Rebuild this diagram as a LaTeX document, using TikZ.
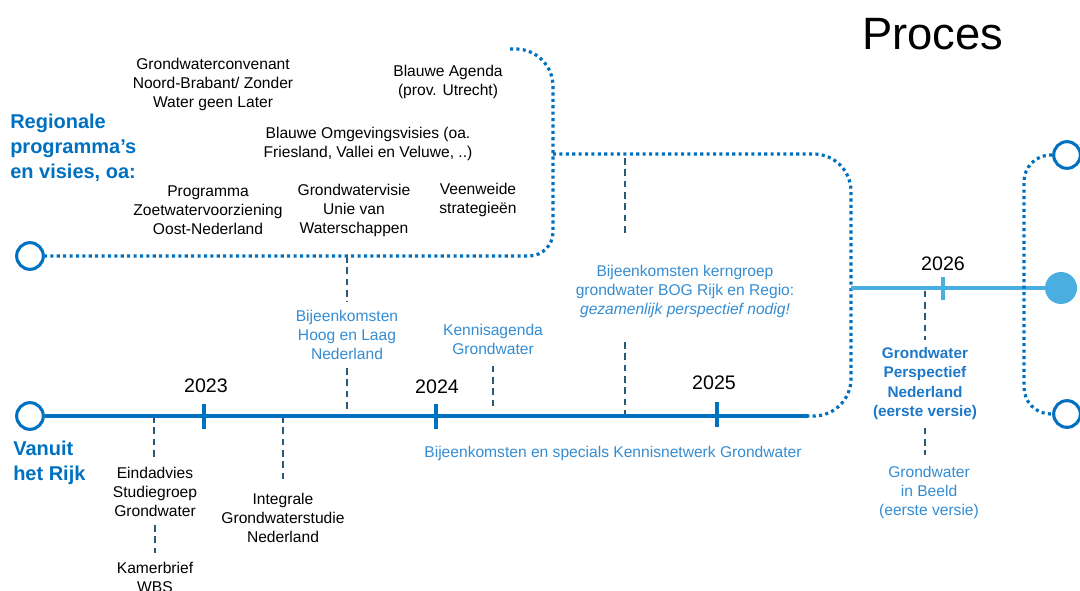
\documentclass[tikz,border=0pt]{standalone}
\usepackage{fontspec}
\setmainfont{Liberation Sans}
\definecolor{dblue}{RGB}{0,112,192}
\definecolor{tblue}{RGB}{52,140,210}
\definecolor{gblue}{RGB}{30,120,200}
\definecolor{lblue}{RGB}{75,174,224}
\definecolor{connc}{RGB}{40,90,120}
\begin{document}
\begin{tikzpicture}[x=0.75pt,y=-0.75pt,
  txt/.style={font=\fontsize{11.7}{14.25}\selectfont, align=center, inner sep=0pt, anchor=north, text=black},
  btxt/.style={txt, text=tblue},
  gpntxt/.style={txt, font=\bfseries\fontsize{11.5}{14.5}\selectfont, text=gblue},
  head/.style={font=\bfseries\fontsize{15}{18.5}\selectfont, text=dblue, align=left, inner sep=0pt, anchor=north west},
  yr/.style={font=\fontsize{14.7}{17}\selectfont, inner sep=0pt, anchor=base},
  ring/.style={circle, draw=dblue, line width=2.3pt, minimum size=20pt, inner sep=0pt, fill=white},
  dotnode/.style={circle, fill=lblue, minimum size=24pt, inner sep=0pt},
  mainln/.style={dblue, line width=3pt},
  dots/.style={dblue, line width=2.4pt, dash pattern=on 2.3pt off 2.5pt},
  lightln/.style={lblue, line width=2.4pt},
  conn/.style={connc, line width=0.9pt, dash pattern=on 5pt off 3.5pt}
]
\useasboundingbox (0,0) rectangle (1080,591);
\clip (0,0) rectangle (1080,591);

% title
\node[anchor=base west, font=\fontsize{34}{40}\selectfont, inner sep=0pt] (title) at (862,50) {Proces};

% headers
\node[head] (regionale) at (10,114) {Regionale\\programma’s\\en visies, oa:};
\node[head] (vanuit) at (13,441) {Vanuit\\het Rijk};

% regional texts
\node[txt] (gwconv) at (213,58) {Grondwaterconvenant\\Noord-Brabant/ Zonder\\Water geen Later};
\node[txt] (blauweag) at (448,65) {Blauwe Agenda\\(prov. Utrecht)};
\node[txt] (omgev) at (368,127) {Blauwe Omgevingsvisies (oa.\\Friesland, Vallei en Veluwe, ..)};
\node[txt] (prog) at (208,186) {Programma\\Zoetwatervoorziening\\Oost-Nederland};
\node[txt] (gwvisie) at (354,184) {Grondwatervisie\\Unie van\\Waterschappen};
\node[txt] (veen) at (478,183) {Veenweide\\strategieën};

% blue texts
\node[btxt] (hoog) at (347,310) {Bijeenkomsten\\Hoog en Laag\\Nederland};
\node[btxt] (kennis) at (493,324) {Kennisagenda\\Grondwater};
\node[btxt] (kern) at (685,265) {Bijeenkomsten kerngroep\\grondwater BOG Rijk en Regio:\\\textit{gezamenlijk perspectief nodig!}};
\node[btxt, anchor=base] (specials) at (613,457) {Bijeenkomsten en specials Kennisnetwerk Grondwater};
\node[gpntxt] (gpn) at (925,347) {Grondwater\\Perspectief\\Nederland\\(eerste versie)};
\node[btxt] (beeld) at (929,466) {Grondwater\\in Beeld\\(eerste versie)};

% Rijk texts
\node[txt] (eind) at (155,467) {Eindadvies\\Studiegroep\\Grondwater};
\node[txt] (kamer) at (155,562) {Kamerbrief\\WBS};
\node[txt] (integ) at (283,493) {Integrale\\Grondwaterstudie\\Nederland};

% years
\node[yr] (y23) at (206,392) {2023};
\node[yr] (y24) at (437,393) {2024};
\node[yr] (y25) at (714,389) {2025};
\node[yr] (y26) at (943,271) {2026};

% coordinates
\coordinate (e1) at (154,416);
\coordinate (i1) at (283,416);
\coordinate (h1) at (347,256);
\coordinate (h2) at (347,416);
\coordinate (k1) at (493,416);
\coordinate (g1) at (625,154);
\coordinate (g2) at (625,416);
\coordinate (p1) at (925,288);
\coordinate (junc) at (851,288);
\coordinate (solidEnd) at (808,416);
\coordinate (regioStart) at (510,49);

% dashed connectors
\draw[conn, shorten >=7pt] (e1) -- (e1 |- eind.north);
\draw[conn, shorten <=6pt, shorten >=7pt] (eind.south) -- (kamer.north);
\draw[conn, shorten >=7pt] (i1) -- (i1 |- integ.north);
\draw[conn, shorten >=6pt] (h1) -- (hoog.north);
\draw[conn, shorten <=6pt, shorten >=3pt] (hoog.south) -- (h2);
\draw[conn, shorten <=8pt, shorten >=4pt] (k1 |- kennis.south) -- (k1);
\draw[conn, shorten <=3pt, shorten >=24pt] (g1) -- (g1 |- kern.north);
\draw[conn, shorten <=18pt] (g1 |- kern.south) -- (g2);
\draw[conn, shorten <=2pt, shorten >=5pt] (p1) -- (gpn.north);
\draw[conn, shorten <=6pt, shorten >=8pt] (gpn.south) -- (gpn.south |- beeld.north);

% rings
\node[ring] (rijk) at (30,416) {};
\node[ring] (regio) at (30,256) {};
\node[ring] (ringTR) at (1067,155) {};
\node[ring] (ringBR) at (1067,414) {};
\node[dotnode] (dotR) at (1061,288) {};

% timelines
\draw[dots] (regioStart) [rounded corners=28pt] -- (553,49) [rounded corners=18pt] -- (553,256) -- (regio.east);
\draw[dots, rounded corners=28pt] (553,154) -- (851,154) -- (851,416) -- (solidEnd);
\draw[mainln] (rijk.east) -- (solidEnd);
\draw[lightln] (junc) -- (dotR.west);
\draw[dots, rounded corners=20pt] (ringTR.west) -- (1024,155) -- (1024,414) -- (ringBR.west);

% ticks
\draw[dblue, line width=2.6pt] (204,404) -- (204,429);
\draw[dblue, line width=2.6pt] (436,404) -- (436,429);
\draw[dblue, line width=2.6pt] (717,402) -- (717,427);
\draw[lblue, line width=2.4pt] (943,277) -- (943,300);
\end{tikzpicture}
\end{document}
